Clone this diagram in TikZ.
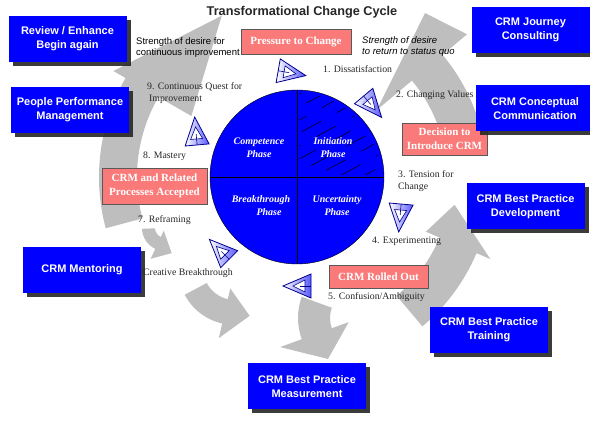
\documentclass[tikz,border=0pt]{standalone}
\usepackage{fontspec}
\setmainfont{Liberation Serif}
\setsansfont{Liberation Sans}
\usetikzlibrary{shadows}

\definecolor{boxblue}{RGB}{0,0,255}
\definecolor{salmon}{RGB}{250,122,122}
\definecolor{ringgray}{RGB}{190,190,190}

% fat curved arrow: {centre}{start}{base}{tip angle}{r in}{r out}{barb in}{barb out}{tip r}
\newcommand{\ringarrow}[9]{%
  \fill[ring arrow] ([shift={#1}]#2:#6pt) arc[start angle=#2, end angle=#3, radius=#6pt]
    -- ([shift={#1}]#3:#8pt) -- ([shift={#1}]#4:#9pt) -- ([shift={#1}]#3:#7pt)
    -- ([shift={#1}]#3:#5pt) arc[start angle=#3, end angle=#2, radius=#5pt] -- cycle;}

\tikzset{
  crm box/.style={fill=boxblue, text=white, font=\sffamily\bfseries\fontsize{11}{14}\selectfont,
    align=center, minimum width=118pt, minimum height=46pt, inner sep=0pt,
    drop shadow={shadow xshift=4pt, shadow yshift=-4pt, fill=black!85, opacity=0.9}},
  event box/.style={fill=salmon, draw=black!65, text=white,
    font=\bfseries\fontsize{11}{13.5}\selectfont, align=center, inner sep=0pt},
  stage/.style={font=\fontsize{9.8}{12}\selectfont, text=black!85, anchor=west, align=left, inner sep=0pt},
  phase/.style={font=\bfseries\itshape\fontsize{10}{13}\selectfont, text=white, align=center, inner sep=0pt},
  force/.style={font=\sffamily\fontsize{9.5}{11}\selectfont, anchor=west, align=left, inner sep=0pt},
  ring arrow/.style={fill=ringgray},
  tri icon/.pic={
    \draw[draw=blue!55!black, line width=0.8pt, left color=white, right color=blue!65!white]
      (15,0) -- (-13,12) -- (-13,-12) -- cycle;
    \draw[blue!55!black, line width=0.6pt, fill=white] (5,0) -- (-7,6) -- (-7,-6) -- cycle;
    \draw[blue!55!black, line width=0.6pt] (-13,0) -- (-2,0);
  }
}

\begin{document}
\begin{tikzpicture}[x=1pt, y=-1pt]
  \useasboundingbox (0,0) rectangle (590,430);

  % gray flow arrows round the cycle
  \ringarrow{(297,177)}{195}{150}{115}{160}{198}{122}{212}{178}
  \ringarrow{(297,177)}{10}{40}{52}{150}{190}{104}{222}{208}
  \ringarrow{(297,177)}{-50}{-23}{-10}{155}{195}{140}{210}{160}
  \ringarrow{(360,318)}{160}{200}{232}{30}{62}{12}{85}{52}
  \ringarrow{(235,268)}{208}{257}{287}{32}{57}{21}{72}{50}
  \ringarrow{(165,228)}{182}{245}{285}{10}{23}{3}{34}{26}

  \node[font=\sffamily\bfseries\fontsize{12.7}{15}\selectfont, text=black!85] (title) at (302,12)
    {Transformational Change Cycle};

  % phase circle
  \node[circle, draw, fill=boxblue, minimum size=174pt, inner sep=0pt] (core) at (297,177) {};
  \begin{scope}
    \clip (299,90) rectangle (385,175);
    \clip (297,177) circle[radius=84pt];
    \foreach \k [evaluate=\k as \ph using {mod(\k*23,40)}] in {0,...,11}
      \draw[line width=0.55pt, dash pattern=on 22pt off 18pt, dash phase=\ph pt]
        (292,98+13*\k) -- ++(110,-60);
  \end{scope}
  \draw (core.north) -- (core.south);
  \draw (core.west) -- (core.east);
  \node[phase] (competence) at (259,148) {Competence\\Phase};
  \node[phase] (initiation) at (333,148) {Initiation\\Phase};
  \node[phase] (breakthrough) at (261,206) {Breakthrough\\\hspace*{16pt}Phase};
  \node[phase] (uncertainty) at (337,206) {Uncertainty\\Phase};

  % events
  \node[event box, minimum width=110pt, minimum height=25pt] (pressure) at (296,41.5) {Pressure to Change};
  \node[event box, minimum width=85pt, minimum height=32pt] (decision) at (444.5,139) {Decision to\\Introduce CRM};
  \node[event box, minimum width=99pt, minimum height=23pt] (rolledout) at (378.5,276.5) {CRM Rolled Out};
  \node[event box, minimum width=105pt, minimum height=36pt] (accepted) at (154.5,186) {CRM and Related\\Processes Accepted};

  % stages
  \node[stage] (dissat) at (323,69) {1. Dissatisfaction};
  \node[stage] (values) at (396,95) {2. Changing Values};
  \node[stage] (tension) at (398,181) {3. Tension for\\Change};
  \node[stage] (experiment) at (372,241) {4. Experimenting};
  \node[stage] (confusion) at (328,297) {5. Confusion/Ambiguity};
  \node[stage] (creative) at (143,273) {Creative Breakthrough};
  \node[stage] (reframe) at (138,220) {7. Reframing};
  \node[stage] (mastery) at (143,156) {8. Mastery};
  \node[stage] (quest) at (147,93) {9. Continuous Quest for\\\hspace*{2pt}Improvement};

  \node[force] (strength) at (136,47.5) {Strength of desire for\\continuous improvement};
  \node[force, font=\sffamily\itshape\fontsize{9.5}{11}\selectfont] (statusquo) at (362,46.5)
    {Strength of desire\\to return to status quo};

  % step icons
  \pic[rotate=-10] at (291,73) {tri icon};
  \pic[rotate=-50] at (372,106) {tri icon};
  \pic[rotate=-95] at (400,217) {tri icon};
  \pic[rotate=180] at (298,286) {tri icon};
  \pic[rotate=135] at (220,250) {tri icon};
  \pic[rotate=95] at (196,132) {tri icon};

  % services
  \node[crm box] (review) at (67.5,39) {Review / Enhance\\Begin again};
  \node[crm box] (people) at (70,110) {People Performance\\Management};
  \node[crm box] (journey) at (530.5,30) {CRM Journey\\Consulting};
  \node[crm box] (conceptual) at (535,108.5) {CRM Conceptual\\Communication};
  \node[crm box] (development) at (525.5,206.5) {CRM Best Practice\\Development};
  \node[crm box] (mentoring) at (82,270) {CRM Mentoring};
  \node[crm box] (training) at (489,330) {CRM Best Practice\\Training};
  \node[crm box] (measurement) at (307,386.5) {CRM Best Practice\\Measurement};
\end{tikzpicture}
\end{document}
